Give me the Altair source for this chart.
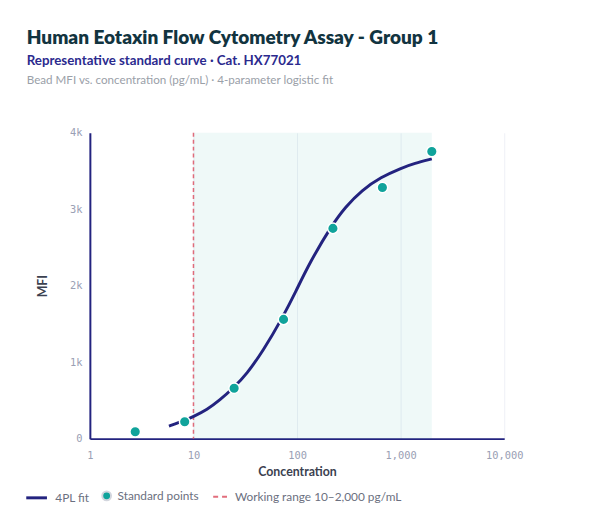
import altair as alt
import pandas as pd

# standards (3-fold dilution series) and measured bead MFI
std_conc = [2.74, 8.23, 24.7, 74.1, 222, 667, 2000]
std_mfi = [90, 220, 660, 1560, 2750, 3285, 3755]

# 4PL fitted curve
fit_conc = [5.8, 8.2, 9.8, 13.6, 18.0, 24.0, 32.7, 47.1, 71.6, 97.8, 131, 216, 293, 422, 645, 1015, 1360, 2000]
fit_mfi = [165, 236, 282, 380, 505, 655, 845, 1150, 1570, 1930, 2290, 2790, 3030, 3250, 3420, 3540, 3600, 3660]

range_lo = [10]
range_hi = [2000]

x_ticks = [1, 10, 100, 1000, 10000]
y_ticks = [0, 1000, 2000, 3000, 4000]

title_text = "Human Eotaxin Flow Cytometry Assay - Group 1"
subtitle_text = "Representative standard curve · Cat. HX77021"
note_text = "Bead MFI vs. concentration (pg/mL) · 4-parameter logistic fit"

fit_label = "4PL fit"
pts_label = "Standard points"
range_label = "Working range 10–2,000 pg/mL"

NAVY = "#23237f"
TEAL = "#10a39b"
RED = "#dc4a5c"
FONT = "Lato"

fit_df = pd.DataFrame({"conc": fit_conc, "mfi": fit_mfi, "series": fit_label})
pts_df = pd.DataFrame({"conc": std_conc, "mfi": std_mfi, "series": pts_label})
band_df = pd.DataFrame({"lo": range_lo, "hi": range_hi})
rule_df = pd.DataFrame({"conc": range_lo, "series": range_label})

x_scale = alt.Scale(type="log", domain=[1, 10000])
y_scale = alt.Scale(domain=[0, 4000])

x_axis = alt.Axis(
    values=x_ticks, format=",d", title="Concentration",
    labelPadding=12, titlePadding=5, labelFlush=False,
)
y_axis = alt.Axis(
    values=y_ticks, title="MFI",
    labelExpr="datum.value == 0 ? '0' : (datum.value / 1000) + 'k'",
    labelPadding=8, titlePadding=20,
)

band = alt.Chart(band_df).mark_rect(color=TEAL, opacity=0.065).encode(
    x=alt.X("lo:Q", scale=x_scale, axis=x_axis),
    x2="hi:Q",
    y=alt.datum(0, scale=y_scale, axis=y_axis),
    y2=alt.datum(4000),
)

rule = alt.Chart(rule_df).mark_rule(strokeDash=[4, 3], strokeWidth=1.5, opacity=0.8).encode(
    x=alt.X("conc:Q", scale=x_scale, axis=x_axis),
    color=alt.Color(
        "series:N",
        scale=alt.Scale(domain=[range_label], range=[RED]),
        legend=alt.Legend(
            title=None, orient="none", legendX=124, legendY=361, padding=0,
            symbolType="stroke", symbolSize=196, symbolDash=[5, 4],
            symbolStrokeWidth=2, symbolStrokeColor=RED, labelOffset=7,
            labelLimit=300,
        ),
    ),
)

curve = alt.Chart(fit_df).mark_line(interpolate="basis", strokeWidth=3).encode(
    x=alt.X("conc:Q", scale=x_scale, axis=x_axis),
    y=alt.Y("mfi:Q", scale=y_scale, axis=y_axis),
    color=alt.Color(
        "series:N",
        scale=alt.Scale(domain=[fit_label], range=[NAVY]),
        legend=alt.Legend(
            title=None, orient="none", legendX=-66, legendY=358, padding=0,
            symbolType="stroke", symbolSize=440, symbolStrokeWidth=3,
            labelOffset=7,
        ),
    ),
)

points = alt.Chart(pts_df).mark_circle(size=115, opacity=1, stroke="white", strokeWidth=1.5).encode(
    x=alt.X("conc:Q", scale=x_scale, axis=x_axis),
    y=alt.Y("mfi:Q", scale=y_scale, axis=y_axis),
    color=alt.Color(
        "series:N",
        scale=alt.Scale(domain=[pts_label], range=[TEAL]),
        legend=alt.Legend(
            title=None, orient="none", legendX=11, legendY=362, padding=0,
            symbolType="circle", symbolSize=80, symbolFillColor=TEAL,
            symbolStrokeColor="#d3d6de", symbolStrokeWidth=2, labelOffset=5,
        ),
    ),
)

def header(text, y, size, weight, color):
    return alt.Chart(pd.DataFrame({"t": [text]})).mark_text(
        align="left", baseline="alphabetic", font=FONT,
        fontSize=size, fontWeight=weight, color=color,
    ).encode(x=alt.value(-64), y=alt.value(y), text="t:N")

chart = alt.layer(
    band, rule, curve, points,
    header(title_text, -90, 19.3, 800, "#123440"),
    header(subtitle_text, -69, 13.5, 700, "#2b2a8e"),
    header(note_text, -50, 11.8, 400, "#9aa0a8"),
).resolve_scale(
    color="independent"
).resolve_legend(
    color="independent"
).properties(
    width=420,
    height=310,
    padding={"left": 83, "top": 123, "right": 89, "bottom": 84},
    autosize=alt.AutoSizeParams(type="none"),
    background="white",
).configure_view(
    stroke=None
).configure_axis(
    domainColor=NAVY,
    domainWidth=2,
    ticks=False,
    gridColor="#eef0f6",
    gridWidth=1,
    labelFont="DejaVu Sans Mono",
    labelFontSize=10.5,
    labelColor="#9aa0b4",
    titleFont=FONT,
    titleFontSize=12.5,
    titleFontWeight="bold",
    titleColor="#3b4150",
).configure_legend(
    labelFont=FONT,
    labelFontSize=12,
    labelColor="#6b7080",
)

chart.save("out.html", embed_options={"renderer": "svg", "actions": False})
